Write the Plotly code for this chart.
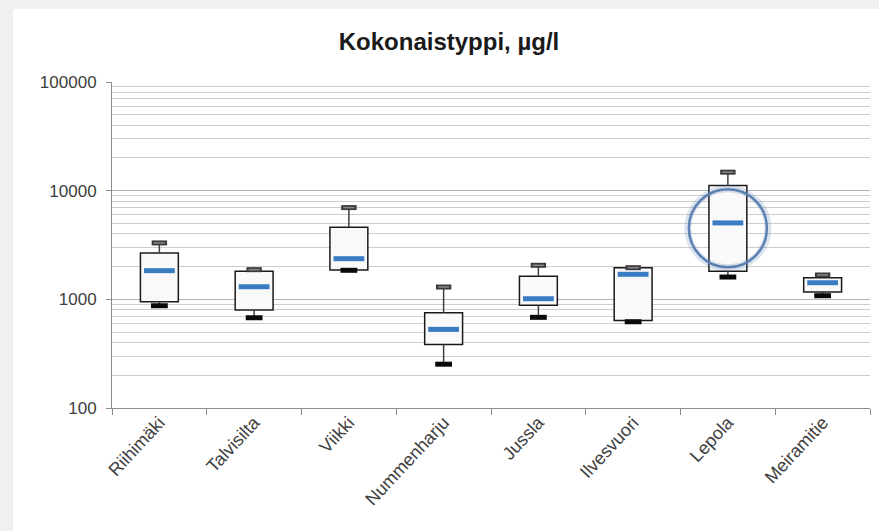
import plotly.graph_objects as go

# ---- data (µg/l) ----
sites = ["Riihimäki", "Talvisilta", "Viikki", "Nummenharju", "Jussla",
         "Ilvesvuori", "Lepola", "Meiramitie"]
low_vals = [873, 677, 1850, 253, 683, 622, 1604, 1080]
q1_vals = [950, 797, 1862, 385, 881, 640, 1811, 1167]
median_vals = [1836, 1306, 2366, 529, 1013, 1700, 5050, 1422]
q3_vals = [2672, 1811, 4606, 753, 1630, 1955, 11140, 1581]
high_vals = [3304, 1875, 6985, 1298, 2057, 1955, 14800, 1675]
y_tick_vals = [100, 1000, 10000, 100000]
y_tick_text = ["100", "1000", "10000", "100000"]
title_text = "Kokonaistyppi, µg/l"
highlight_site = "Lepola"

FONT = "Liberation Sans"
TXT = "#404040"

fig = go.Figure()

# boxes (q1 -> q3)
fig.add_trace(go.Bar(
    x=sites,
    y=[h - l for h, l in zip(q3_vals, q1_vals)],
    base=q1_vals,
    width=0.4,
    marker=dict(color="#f9f9f9", line=dict(color="#1a1a1a", width=1.5)),
    hoverinfo="skip",
))

# whiskers
wx, wy = [], []
for s, lo, a, b, hi in zip(sites, low_vals, q1_vals, q3_vals, high_vals):
    wx += [s, s, None, s, s, None]
    wy += [b, hi, None, a, lo, None]
fig.add_trace(go.Scatter(x=wx, y=wy, mode="lines",
                         line=dict(color="#404040", width=1.5),
                         hoverinfo="skip"))

# caps
fig.add_trace(go.Scatter(x=sites, y=high_vals, mode="markers",
                         marker=dict(symbol="line-ew", size=11,
                                     line=dict(color="#3a3a3a", width=5)),
                         hoverinfo="skip"))
fig.add_trace(go.Scatter(x=sites, y=high_vals, mode="markers",
                         marker=dict(symbol="line-ew", size=8,
                                     line=dict(color="#8a8a8a", width=1.5)),
                         hoverinfo="skip"))
fig.add_trace(go.Scatter(x=sites, y=low_vals, mode="markers",
                         marker=dict(symbol="line-ew", size=12,
                                     line=dict(color="#0a0a0a", width=5)),
                         hoverinfo="skip"))

# medians
fig.add_trace(go.Scatter(x=sites, y=median_vals, mode="markers",
                         marker=dict(symbol="line-ew", size=22,
                                     line=dict(color="#3a7cc4", width=5)),
                         hoverinfo="skip"))

hi_idx = sites.index(highlight_site)
hi_med = median_vals[hi_idx]
c_lo = hi_med * 10 ** (-0.408)
c_hi = hi_med * 10 ** (0.31)

shapes = [
    # gray outer frame / white chart area
    dict(type="rect", xref="paper", yref="paper", layer="below",
         x0=(13 - 112) / 758, x1=1 + 12 / 758,
         y0=-(531 - 408 + 5) / 326, y1=1 + (82 - 9) / 326,
         fillcolor="white", line=dict(width=0)),
    # glow of highlight circle
    dict(type="circle", xref="x", yref="y", xsizemode="pixel",
         xanchor=hi_idx, x0=-40, x1=40, y0=c_lo * 0.99, y1=c_hi * 1.01,
         line=dict(color="rgba(90,127,176,0.22)", width=7)),
    dict(type="circle", xref="x", yref="y", xsizemode="pixel",
         xanchor=hi_idx, x0=-39, x1=39, y0=c_lo, y1=c_hi,
         line=dict(color="#5b80b2", width=2.5)),
]

fig.update_layout(
    width=879, height=531,
    margin=dict(l=112, r=9, t=82, b=123),
    paper_bgcolor="#eff0f0",
    plot_bgcolor="rgba(0,0,0,0)",
    showlegend=False,
    shapes=shapes,
    title=dict(text="<b>" + title_text + "</b>", x=449 / 879, xanchor="center",
               y=1 - 42 / 531, yanchor="middle",
               font=dict(family=FONT, size=24, color="#1a1a1a")),
    font=dict(family=FONT, size=17, color=TXT),
)

fig.update_xaxes(
    type="category",
    range=[-0.5, len(sites) - 0.5],
    showline=True, linecolor="#8c8c8c", linewidth=1,
    ticks="outside", tickson="boundaries", ticklen=6, tickcolor="#8c8c8c",
    tickangle=-47, ticklabelstandoff=-4,
    tickfont=dict(family=FONT, size=18, color=TXT),
    showgrid=False, zeroline=False,
)

fig.update_yaxes(
    type="log", range=[2, 5],
    tickvals=y_tick_vals, ticktext=y_tick_text,
    showline=True, linecolor="#8c8c8c", linewidth=1,
    ticks="outside", ticklen=5, tickcolor="#8c8c8c", ticklabelstandoff=6,
    tickfont=dict(family=FONT, size=17, color=TXT),
    showgrid=True, gridcolor="#b4b4b4", gridwidth=1,
    minor=dict(dtick="D1", showgrid=True, gridcolor="#cdcdcd", gridwidth=1, ticks=""),
    zeroline=False,
)

fig.write_html("out.html", config={"displayModeBar": False},
               post_script="document.body.style.margin='0';")
